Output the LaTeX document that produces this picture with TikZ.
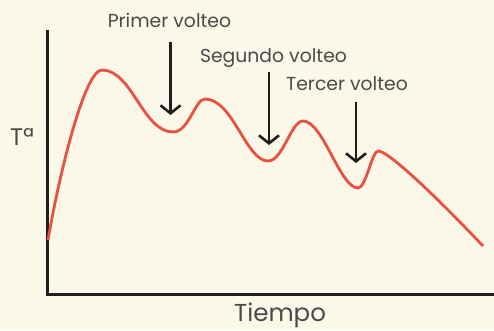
\documentclass[tikz,border=0pt]{standalone}
\usepackage{fontspec}
\setmainfont{Poppins}
\usetikzlibrary{arrows.meta}
\definecolor{fondo}{HTML}{FBF8E9}
\definecolor{curva}{HTML}{E9503F}
\definecolor{texto}{HTML}{4A4A4A}
\definecolor{eje}{HTML}{1E1E1E}

\begin{document}
\begin{tikzpicture}[x=1pt,y=1pt,
  eje/.style={draw=eje,line width=3pt},
  volteo/.style={draw=eje,line width=2.6pt,-{Straight Barb[length=8pt,width=20pt]}},
  rotulo/.style={text=texto,inner sep=0pt,anchor=base,font=\fontsize{18.8}{21}\selectfont}]
\fill [fondo] (0,0) rectangle (494,330);
\useasboundingbox (0,0) rectangle (494,330);
% ejes
\coordinate (o) at (47,36);
\coordinate (ytop) at (47,300);
\coordinate (xend) at (494,36);
\draw [eje] (ytop) -- (o) -- (xend);
\node [rotulo,font=\fontsize{24.5}{28}\selectfont] (tiempo) at (280,9) {Tiempo};
\node [rotulo,anchor=center,font=\fontsize{24}{26}\selectfont] (temp) at (22,193) {Tª};
% curva de temperatura
\coordinate (s) at (48,90);
\coordinate (p1) at (102,260);
\coordinate (m1) at (173,198);
\coordinate (p2) at (205,231);
\coordinate (m2) at (268,169);
\coordinate (p3) at (303,209);
\coordinate (m3) at (358,142);
\coordinate (p4) at (378,179);
\coordinate (e) at (483,84);
\draw [curva,line width=2.8pt]
  (s) .. controls (60,160) and (85,260) .. (p1)
  .. controls (132,260) and (143,198) .. (m1)
  .. controls (189,198) and (195,231) .. (p2)
  .. controls (233,231) and (246,169) .. (m2)
  .. controls (283,169) and (291,209) .. (p3)
  .. controls (323,209) and (340,142) .. (m3)
  .. controls (366,142) and (372,179) .. (p4)
  .. controls (390,179) and (448,121) .. (e);
% volteos
\node [rotulo] (v1) at (169.5,302) {Primer volteo};
\node [rotulo] (v2) at (273.5,267) {Segundo volteo};
\node [rotulo] (v3) at (347,240) {Tercer volteo};
\coordinate (a1) at (170.5,288);
\coordinate (b1) at (170.5,215);
\coordinate (a2) at (269,258);
\coordinate (b2) at (269,185);
\coordinate (a3) at (356,228);
\coordinate (b3) at (356,167);
\draw [volteo] (a1) -- (b1);
\draw [volteo] (a2) -- (b2);
\draw [volteo] (a3) -- (b3);
\end{tikzpicture}
\end{document}
